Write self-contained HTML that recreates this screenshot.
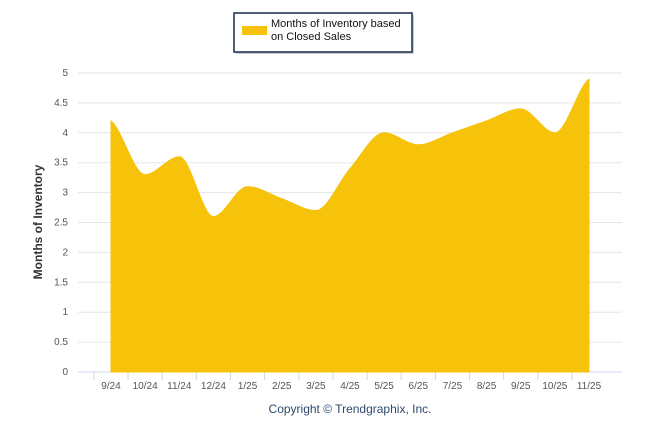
<!DOCTYPE html>
<html><head><meta charset="utf-8"><style>
body{margin:0;background:#fff;}
svg{display:block;font-family:"Liberation Sans",sans-serif;}
</style></head><body>
<svg id="chart" width="646" height="434" viewBox="0 0 646 434">
<g id="grid"></g>
<g id="yticks"></g>
<g id="xticks"></g>
<path id="area" fill="#f7c30a" stroke="#f7c30a" stroke-width="1"></path>
<text x="42" y="222" transform="rotate(-90 42 222)" text-anchor="middle" font-size="12" font-weight="bold" fill="#333">Months of Inventory</text>
<text x="350" y="413" text-anchor="middle" font-size="12" fill="#2e4a6e">Copyright © Trendgraphix, Inc.</text>
<g>
<rect x="236" y="15" width="178" height="39" fill="#999" opacity="0.5"/>
<rect x="234" y="13" width="178" height="39" fill="#fff" stroke="#1a2a4a" stroke-width="1.5"/>
<rect x="242" y="26" width="25" height="9" fill="#f7c30a"/>
<text x="271" y="27" font-size="11" fill="#111">Months of Inventory based</text>
<text x="271" y="40" font-size="11" fill="#111">on Closed Sales</text>
</g>
</svg>
<script>
const categories=["9/24","10/24","11/24","12/24","1/25","2/25","3/25","4/25","5/25","6/25","7/25","8/25","9/25","10/25","11/25"];
const values=[4.2,3.3,3.6,2.6,3.1,2.9,2.7,3.4,4.0,3.8,4.0,4.2,4.4,4.0,4.9];
const yTicks=[0,0.5,1,1.5,2,2.5,3,3.5,4,4.5,5];
const NS="http://www.w3.org/2000/svg";
const x0=111,x1=589,plotL=78,plotR=622,yBase=372,yTop=73;
function xs(i){return x0+i*(x1-x0)/(categories.length-1);}
function ys(v){return yBase-(v/5)*(yBase-yTop);}
const grid=document.getElementById('grid'),yt=document.getElementById('yticks'),xt=document.getElementById('xticks');
yTicks.forEach(t=>{
 const l=document.createElementNS(NS,'line');
 
 
 l.setAttribute('x1',plotL);l.setAttribute('x2',plotR);l.setAttribute('y1',ys(t));l.setAttribute('y2',ys(t));
 l.setAttribute('stroke',t===0?'#ccd6eb':'#e6e6e6');l.setAttribute('stroke-width','1');
 grid.appendChild(l);
 const tx=document.createElementNS(NS,'text');
 
 
 tx.setAttribute('x',68);tx.setAttribute('y',ys(t)+3);tx.setAttribute('text-anchor','end');
 tx.setAttribute('font-size','10');tx.setAttribute('fill','#555');tx.textContent=t;
 yt.appendChild(tx);
});
categories.forEach((c,i)=>{
 const tk=document.createElementNS(NS,'line');
 
 
 const bx=xs(i)-(x1-x0)/28;
 tk.setAttribute('x1',bx);tk.setAttribute('x2',bx);tk.setAttribute('y1',yBase);tk.setAttribute('y2',yBase+8);
 tk.setAttribute('stroke','#ccd6eb');grid.appendChild(tk);
 const tx=document.createElementNS(NS,'text');
 
 
 tx.setAttribute('x',xs(i));tx.setAttribute('y',389);tx.setAttribute('text-anchor','middle');
 tx.setAttribute('font-size','10');tx.setAttribute('fill','#555');tx.textContent=c;
 xt.appendChild(tx);
});
const pts=values.map((v,i)=>[xs(i),ys(v)]);
let d=`M${pts[0][0]},${yBase}L${pts[0][0]},${pts[0][1]}`;
for(let i=0;i<pts.length-1;i++){
 const p0=pts[Math.max(0,i-1)],p1=pts[i],p2=pts[i+1],p3=pts[Math.min(pts.length-1,i+2)];
 let c1y=p1[1]+(p2[1]-p0[1])/6, c2y=p2[1]-(p3[1]-p1[1])/6;
 if(i>0&&((p1[1]-p0[1])*(p2[1]-p1[1])<0))c1y=p1[1];
 if(i+2<pts.length&&((p2[1]-p1[1])*(p3[1]-p2[1])<0))c2y=p2[1];
 const dx=(p2[0]-p1[0])/3;
 d+=`C${p1[0]+dx},${c1y} ${p2[0]-dx},${c2y} ${p2[0]},${p2[1]}`;
}
d+=`L${pts[pts.length-1][0]},${yBase}Z`;
document.getElementById('area').setAttribute('d',d);
</script>
</body></html>
